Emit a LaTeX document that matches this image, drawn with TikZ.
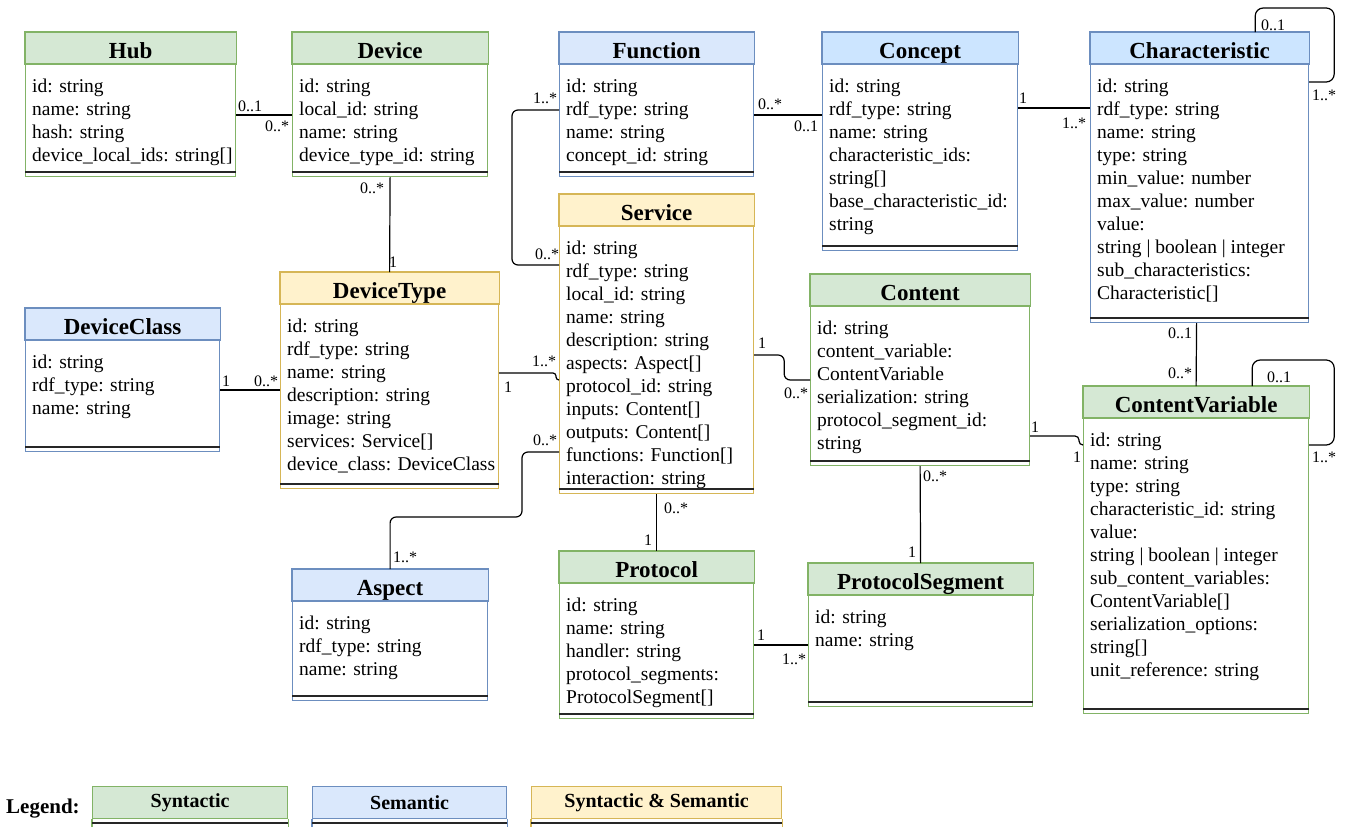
\documentclass[tikz,border=0pt]{standalone}
\usepackage{fontspec}
\setmainfont{Liberation Serif}
\usetikzlibrary{calc}
\definecolor{SynHead}{HTML}{D5E8D4}
\definecolor{SynLine}{HTML}{82B366}
\definecolor{SemHead}{HTML}{DAE8FC}
\definecolor{SemLine}{HTML}{6C8EBF}
\definecolor{SemAltHead}{HTML}{CCE5FF}
\definecolor{MixHead}{HTML}{FFF2CC}
\definecolor{MixLine}{HTML}{D6B656}
\tikzstyle{ClassBox}=[rectangle, draw, fill=white, anchor=north west, inner sep=0pt, line width=1.2pt]
\tikzstyle{SynBorder}=[draw=SynLine]
\tikzstyle{SemBorder}=[draw=SemLine]
\tikzstyle{SemAltBorder}=[draw=SemLine]
\tikzstyle{MixBorder}=[draw=MixLine]
\tikzstyle{ClassTitle}=[anchor=base, inner sep=0pt, font=\fontsize{23}{27}\selectfont\bfseries]
\tikzstyle{ClassRows}=[anchor=north west, inner sep=0pt, align=left, font=\fontsize{19.5}{23}\selectfont]
\tikzstyle{ClassRule}=[line width=1.6pt, black!85]
\tikzstyle{MultLabel}=[inner sep=0pt, font=\fontsize{16}{18}\selectfont]
\tikzstyle{Assoc}=[line width=1.2pt, rounded corners=6pt]
\tikzstyle{LegendHead}=[rectangle, draw, anchor=north west, inner sep=0pt, line width=1.2pt, minimum height=32pt, font=\fontsize{20}{24}\selectfont\bfseries]
% name, kind, x, y, width, height, title, rows
\newcommand{\umlclass}[8]{%
  \node[ClassBox, #2Border, minimum width=#5pt, minimum height=#6pt] (#1) at (#3,-#4) {};
  \filldraw[#2Border, fill=#2Head, line width=1.2pt] (#1.north west) rectangle ([yshift=-32pt]#1.north east);
  \node[ClassTitle] (#1-title) at ([yshift=-26pt]#1.north) {#7};
  \node[ClassRows] (#1-rows) at ([xshift=7pt,yshift=-46.7pt]#1.north west) {#8};
  \draw[ClassRule] ([yshift=5pt]#1.south west) -- ([yshift=5pt]#1.south east);
}

\begin{document}
\begin{tikzpicture}[x=1pt, y=1pt]
\useasboundingbox (0,0) rectangle (1347,-827);

\umlclass{Hub}{Syn}{25}{32}{210}{144}{Hub}{id: string\\name: string\\hash: string\\device\_local\_ids: string[]}
\umlclass{Device}{Syn}{292}{32}{195}{144}{Device}{id: string\\local\_id: string\\name: string\\device\_type\_id: string}
\umlclass{Function}{Sem}{559}{32}{194}{144}{Function}{id: string\\rdf\_type: string\\name: string\\concept\_id: string}
\umlclass{Concept}{SemAlt}{822}{32}{195}{218}{Concept}{id: string\\rdf\_type: string\\name: string\\characteristic\_ids:\\string[]\\base\_characteristic\_id:\\string}
\umlclass{Characteristic}{SemAlt}{1090}{32}{218}{290}{Characteristic}{id: string\\rdf\_type: string\\name: string\\type: string\\min\_value: number\\max\_value: number\\value:\\string | boolean | integer\\sub\_characteristics:\\Characteristic[]}
\umlclass{DeviceClass}{Sem}{25}{308}{194}{143}{DeviceClass}{id: string\\rdf\_type: string\\name: string}
\umlclass{DeviceType}{Mix}{280}{272}{218}{216}{DeviceType}{id: string\\rdf\_type: string\\name: string\\description: string\\image: string\\services: Service[]\\device\_class: DeviceClass}
\umlclass{Service}{Mix}{559}{194}{194}{299}{Service}{id: string\\rdf\_type: string\\local\_id: string\\name: string\\description: string\\aspects: Aspect[]\\protocol\_id: string\\inputs: Content[]\\outputs: Content[]\\functions: Function[]\\interaction: string}
\umlclass{Content}{Syn}{810}{274}{219}{191}{Content}{id: string\\content\_variable:\\ContentVariable\\serialization: string\\protocol\_segment\_id:\\string}
\umlclass{ContentVariable}{Syn}{1083}{386}{225}{327}{ContentVariable}{id: string\\name: string\\type: string\\characteristic\_id: string\\value:\\string | boolean | integer\\sub\_content\_variables:\\ContentVariable[]\\serialization\_options:\\string[]\\unit\_reference: string}
\umlclass{Aspect}{Sem}{292}{569}{195}{131}{Aspect}{id: string\\rdf\_type: string\\name: string}
\umlclass{Protocol}{Syn}{559}{551}{194}{167}{Protocol}{id: string\\name: string\\handler: string\\protocol\_segments:\\ProtocolSegment[]}
\umlclass{ProtocolSegment}{Syn}{808}{563}{224}{143}{ProtocolSegment}{id: string\\name: string}

% associations
\draw[Assoc] ([yshift=-83pt]Hub.north east) -- ([yshift=-83pt]Device.north west);
\draw[Assoc] (Device.south) -- (DeviceType.north);
\draw[Assoc] ([yshift=-83pt]Function.north east) -- ([yshift=-83pt]Concept.north west);
\draw[Assoc] ([yshift=-76pt]Concept.north east) -- ([yshift=-76pt]Characteristic.north west);
\draw[Assoc, rounded corners=8pt] ([xshift=-54pt]Characteristic.north east) -- ++(0,24) -- ++(79,0) -- ++(0,-74) -- ([yshift=-50pt]Characteristic.north east);
\draw[Assoc] ([yshift=-78pt]Function.north west) -- ++(-47,0) |- ([yshift=-71pt]Service.north west);
\draw[Assoc] ([yshift=-82pt]DeviceClass.north east) -- ([yshift=-118pt]DeviceType.north west);
\draw[Assoc, rounded corners=3pt] ([yshift=-101pt]DeviceType.north east) -| ([xshift=-3pt,yshift=-186pt]Service.north west) -- ([yshift=-186pt]Service.north west);
\draw[Assoc] (Aspect.north) -- ++(0,52) -| ([xshift=-37pt,yshift=-258pt]Service.north west) -- ([yshift=-258pt]Service.north west);
\draw[Assoc] ([yshift=-161pt]Service.north east) -- ++(30,0) |- ([yshift=-106pt]Content.north west);
\draw[Assoc] ([xshift=-3pt]Characteristic.south) -- (ContentVariable.north);
\draw[Assoc, rounded corners=8pt] ([xshift=-57pt]ContentVariable.north east) -- ++(0,26) -- ++(82,0) -- ++(0,-85) -- ([yshift=-59pt]ContentVariable.north east);
\draw[Assoc, rounded corners=4pt] ([yshift=-162pt]Content.north east) -| ([xshift=-4pt,yshift=-59pt]ContentVariable.north west) -- ([yshift=-59pt]ContentVariable.north west);
\draw[Assoc] (Service.south) -- (Protocol.north);
\draw[Assoc] ([yshift=-94pt]Protocol.north east) -- ([yshift=-82pt]ProtocolSegment.north west);
\draw[Assoc] (Content.south) -- (ProtocolSegment.north);

% multiplicities
\node[MultLabel] (m1) at (250,-106) {0..1};
\node[MultLabel] (m2) at (277,-126) {0..*};
\node[MultLabel] (m3) at (372,-188) {0..*};
\node[MultLabel] (m4) at (393,-262) {1};
\node[MultLabel] (m5) at (770,-104) {0..*};
\node[MultLabel] (m6) at (806,-126) {0..1};
\node[MultLabel] (m7) at (1023,-98) {1};
\node[MultLabel] (m8) at (1074,-123) {1..*};
\node[MultLabel] (m9) at (1273,-25) {0..1};
\node[MultLabel] (m10) at (1324,-95) {1..*};
\node[MultLabel] (m11) at (545,-98) {1..*};
\node[MultLabel] (m12) at (547,-254) {0..*};
\node[MultLabel] (m13) at (226,-381) {1};
\node[MultLabel] (m14) at (266,-381) {0..*};
\node[MultLabel] (m15) at (544,-361) {1..*};
\node[MultLabel] (m16) at (508,-387) {1};
\node[MultLabel] (m17) at (545,-440) {0..*};
\node[MultLabel] (m18) at (405,-557) {1..*};
\node[MultLabel] (m19) at (762,-343) {1};
\node[MultLabel] (m20) at (796,-393) {0..*};
\node[MultLabel] (m21) at (1180,-333) {0..1};
\node[MultLabel] (m22) at (1180,-373) {0..*};
\node[MultLabel] (m23) at (1279,-377) {0..1};
\node[MultLabel] (m24) at (1324,-457) {1..*};
\node[MultLabel] (m25) at (1035,-427) {1};
\node[MultLabel] (m26) at (1077,-457) {1};
\node[MultLabel] (m27) at (676,-508) {0..*};
\node[MultLabel] (m28) at (648,-540) {1};
\node[MultLabel] (m29) at (761,-635) {1};
\node[MultLabel] (m30) at (794,-659) {1..*};
\node[MultLabel] (m31) at (935,-476) {0..*};
\node[MultLabel] (m32) at (912,-552) {1};

% legend
\node[anchor=base west, inner sep=0pt, font=\fontsize{21}{25}\selectfont\bfseries] (LegendLabel) at (6,-813) {Legend:};
\node[LegendHead, SynBorder, fill=SynHead, minimum width=195pt] (SynLegend) at (92,-786) {Syntactic};
\node[LegendHead, SemBorder, fill=SemHead, minimum width=194pt] (SemLegend) at (312,-786) {Semantic};
\node[LegendHead, MixBorder, fill=MixHead, minimum width=250pt] (MixLegend) at (531,-786) {Syntactic \& Semantic};
\draw[SynBorder, line width=1.2pt] (SynLegend.south west) -- ++(0,-20) (SynLegend.south east) -- ++(0,-20);
\draw[SemBorder, line width=1.2pt] (SemLegend.south west) -- ++(0,-20) (SemLegend.south east) -- ++(0,-20);
\draw[MixBorder, line width=1.2pt] (MixLegend.south west) -- ++(0,-20) (MixLegend.south east) -- ++(0,-20);
\draw[ClassRule] ([yshift=-4pt]SynLegend.south west) -- ([yshift=-4pt]SynLegend.south east);
\draw[ClassRule] ([yshift=-4pt]SemLegend.south west) -- ([yshift=-4pt]SemLegend.south east);
\draw[ClassRule] ([yshift=-4pt]MixLegend.south west) -- ([yshift=-4pt]MixLegend.south east);
\end{tikzpicture}
\end{document}
